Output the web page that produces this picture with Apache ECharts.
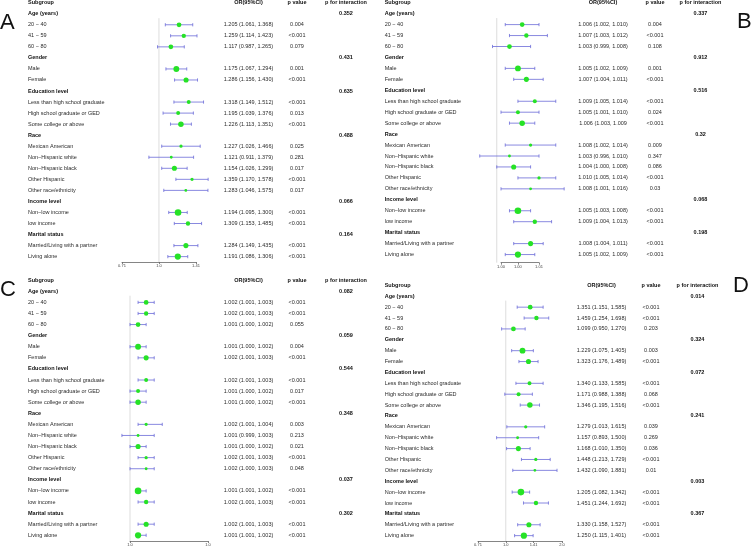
<!DOCTYPE html>
<html>
<head>
<meta charset="utf-8">
<title>Subgroup forest plots</title>
<script src="https://cdn.jsdelivr.net/npm/echarts@6.0.0/dist/echarts.min.js"></script>
<style>
  html, body { margin: 0; padding: 0; background: #fff; }
  #chart { width: 753px; height: 547px; }
</style>
</head>
<body>
<div id="chart"></div>
<script>
// ============================================
// 数据
// ============================================

const headers = ['Subgroup', 'OR(95%CI)', 'p value', 'p for interaction'];
const groups = ['Age (years)', 'Gender', 'Education level', 'Race', 'Income level', 'Marital status'];
const levels = [
    ['20 − 40', '41 − 59', '60 − 80'],
    ['Male', 'Female'],
    ['Less than high school graduate', 'High school graduate or GED', 'Some college or above'],
    ['Mexican American', 'Non−Hispanic white', 'Non−Hispanic black', 'Other Hispanic', 'Other race/ethnicity'],
    ['Non−low income', 'low income'],
    ['Married/Living with a partner', 'Living alone']
];
// relative subgroup weight (box size), same population in every panel
const sampleWeight = [0.5, 0.42, 0.5, 0.75, 0.58, 0.33, 0.33, 0.67, 0.17, 0.08, 0.58, 0.17, 0.08, 0.92, 0.42, 0.58, 0.83];

// panel A
const estA = [1.205, 1.259, 1.117, 1.175, 1.286, 1.318, 1.195, 1.226, 1.227, 1.121, 1.154, 1.359, 1.283, 1.194, 1.309, 1.284, 1.191];
const lowA = [1.061, 1.114, 0.987, 1.067, 1.156, 1.149, 1.039, 1.113, 1.026, 0.911, 1.026, 1.170, 1.046, 1.095, 1.153, 1.149, 1.086];
const highA = [1.368, 1.423, 1.265, 1.294, 1.430, 1.512, 1.376, 1.351, 1.466, 1.379, 1.299, 1.578, 1.575, 1.300, 1.485, 1.435, 1.306];
const pA = ['0.004', '<0.001', '0.079', '0.001', '<0.001', '<0.001', '0.013', '<0.001', '0.025', '0.281', '0.017', '<0.001', '0.017', '<0.001', '<0.001', '<0.001', '<0.001'];
const pIntA = ['0.352', '0.431', '0.635', '0.488', '0.066', '0.164'];
const ticksA = [0.71, 1, 1.41];
const tickLabelsA = ['0.71', '1.0', '1.41'];

// panel B
const estB = [1.006, 1.007, 1.003, 1.005, 1.007, 1.009, 1.005, 1.006, 1.008, 1.003, 1.004, 1.010, 1.008, 1.005, 1.009, 1.008, 1.005];
const lowB = [1.002, 1.003, 0.999, 1.002, 1.004, 1.005, 1.001, 1.003, 1.002, 0.996, 1.000, 1.005, 1.001, 1.003, 1.004, 1.004, 1.002];
const highB = [1.010, 1.012, 1.008, 1.009, 1.011, 1.014, 1.010, 1.009, 1.014, 1.010, 1.008, 1.014, 1.016, 1.008, 1.013, 1.011, 1.009];
const pB = ['0.004', '<0.001', '0.108', '0.001', '<0.001', '<0.001', '0.024', '<0.001', '0.009', '0.347', '0.086', '<0.001', '0.03', '<0.001', '<0.001', '<0.001', '<0.001'];
const pIntB = ['0.337', '0.912', '0.516', '0.32', '0.068', '0.198'];
const ticksB = [1.001, 1.005, 1.010];
const tickLabelsB = ['1.00', '1.00', '1.01'];

// panel C
const estC = [1.002, 1.002, 1.001, 1.001, 1.002, 1.002, 1.001, 1.001, 1.002, 1.001, 1.001, 1.002, 1.002, 1.001, 1.002, 1.002, 1.001];
const lowC = [1.001, 1.001, 1.000, 1.000, 1.001, 1.001, 1.000, 1.000, 1.001, 0.999, 1.000, 1.001, 1.000, 1.001, 1.001, 1.001, 1.001];
const highC = [1.003, 1.003, 1.002, 1.002, 1.003, 1.003, 1.002, 1.002, 1.004, 1.003, 1.002, 1.003, 1.003, 1.002, 1.003, 1.003, 1.002];
const pC = ['<0.001', '<0.001', '0.055', '0.004', '<0.001', '<0.001', '0.017', '<0.001', '0.003', '0.213', '0.021', '<0.001', '0.048', '<0.001', '<0.001', '<0.001', '<0.001'];
const pIntC = ['0.082', '0.059', '0.544', '0.348', '0.037', '0.302'];
const ticksC = [1.0, 1.0097];
const tickLabelsC = ['1.0', '1.0'];

// panel D
const estD = [1.351, 1.459, 1.099, 1.229, 1.323, 1.340, 1.171, 1.346, 1.279, 1.157, 1.168, 1.448, 1.432, 1.205, 1.451, 1.330, 1.250];
const lowD = [1.151, 1.254, 0.950, 1.075, 1.176, 1.133, 0.988, 1.195, 1.013, 0.893, 1.010, 1.213, 1.090, 1.082, 1.244, 1.158, 1.115];
const highD = [1.585, 1.698, 1.270, 1.405, 1.489, 1.585, 1.388, 1.516, 1.615, 1.500, 1.350, 1.729, 1.881, 1.342, 1.692, 1.527, 1.401];
const pD = ['<0.001', '<0.001', '0.203', '0.003', '<0.001', '<0.001', '0.068', '<0.001', '0.039', '0.269', '0.036', '<0.001', '0.01', '<0.001', '<0.001', '<0.001', '<0.001'];
const pIntD = ['0.014', '0.324', '0.072', '0.241', '0.003', '0.367'];
const ticksD = [0.71, 1, 1.41, 2];
const tickLabelsD = ['0.71', '1.0', '1.41', '2.0'];

// ============================================
// 版面 (pixel layout of each panel)
// ============================================

const FONT = '"Liberation Sans", Arial, sans-serif';
const CI_COLOR = '#6b6bd8';
const POINT_COLOR = '#26e226';
const REF_COLOR = '#d4d4d4';

const panels = [
    { letter: 'A', est: estA, low: lowA, high: highA, p: pA, pInt: pIntA, ticks: ticksA, tickLabels: tickLabelsA,
      y0: 2.7, step: 11.04, axisY: 262, sub: 28, or: 248.5, pv: 297, pi: 346, plotL: 122, plotR: 196, lx: 0, ly: 22.5 },
    { letter: 'B', est: estB, low: lowB, high: highB, p: pB, pInt: pIntB, ticks: ticksB, tickLabels: tickLabelsB,
      y0: 2.7, step: 10.95, axisY: 262.7, sub: 384.7, or: 603, pv: 655, pi: 700.5, plotL: 501, plotR: 539, lx: 737, ly: 21.5 },
    { letter: 'C', est: estC, low: lowC, high: highC, p: pC, pInt: pIntC, ticks: ticksC, tickLabels: tickLabelsC,
      y0: 280.2, step: 11.09, axisY: 541, sub: 28, or: 248.5, pv: 297, pi: 346, plotL: 130, plotR: 208, lx: 0, ly: 289.5 },
    { letter: 'D', est: estD, low: lowD, high: highD, p: pD, pInt: pIntD, ticks: ticksD, tickLabels: tickLabelsD,
      y0: 285.4, step: 10.88, axisY: 541, sub: 384.7, or: 601.5, pv: 651, pi: 697.5, plotL: 478, plotR: 562, lx: 733, ly: 286 }
];

// the original table has a typo in one cell of panel B
const cellFix = { B: { 7: '1.006 (1.003, 1.009' } };

// ============================================
// 构建表格行
// ============================================

function fmtCI(P, k) {
    const fix = cellFix[P.letter];
    if (fix && fix[k]) return fix[k];
    return `${P.est[k].toFixed(3)} (${P.low[k].toFixed(3)}, ${P.high[k].toFixed(3)})`;
}

function buildRows(P) {
    const rows = [{ row: 0, cells: [
        { col: 'sub', text: headers[0], align: 'left', bold: true },
        { col: 'or', text: headers[1], align: 'center', bold: true },
        { col: 'pv', text: headers[2], align: 'center', bold: true },
        { col: 'pi', text: headers[3], align: 'center', bold: true }
    ] }];
    const marks = [];
    let row = 1, k = 0;
    groups.forEach((g, gi) => {
        rows.push({ row: row++, cells: [
            { col: 'sub', text: g, align: 'left', bold: true },
            { col: 'pi', text: P.pInt[gi], align: 'center', bold: true }
        ] });
        levels[gi].forEach(lv => {
            rows.push({ row: row, cells: [
                { col: 'sub', text: lv, align: 'left', bold: false },
                { col: 'or', text: fmtCI(P, k), align: 'center', bold: false },
                { col: 'pv', text: P.p[k], align: 'center', bold: false }
            ] });
            marks.push([Math.log2(P.est[k]), row, Math.log2(P.low[k]), Math.log2(P.high[k]), sampleWeight[k]]);
            row++; k++;
        });
    });
    return { rows, marks };
}

// ============================================
// 配置
// ============================================

const grids = [], xAxes = [], yAxes = [], series = [], graphics = [];

panels.forEach((P, i) => {
    const { rows, marks } = buildRows(P);
    const yMax = (P.axisY - P.y0) / P.step;
    const tickVals = P.ticks.map(t => Math.log2(t));
    const ti = i * 2, pl = i * 2 + 1;

    // table grid (x in page pixels, y in rows)
    grids.push({ left: 0, width: 753, top: P.y0, height: P.axisY - P.y0, outerBoundsMode: 'none', containLabel: false });
    // forest grid (x in log2 OR)
    grids.push({ left: P.plotL, width: P.plotR - P.plotL, top: P.y0, height: P.axisY - P.y0, outerBoundsMode: 'none', containLabel: false });

    xAxes.push({ type: 'value', gridIndex: ti, min: 0, max: 753, show: false });
    xAxes.push({
        type: 'value', gridIndex: pl, position: 'bottom',
        min: tickVals[0], max: tickVals[tickVals.length - 1],
        splitLine: { show: false },
        axisLine: { show: true, onZero: false, lineStyle: { color: '#666', width: 0.8 } },
        axisTick: { show: true, length: 2, customValues: tickVals, lineStyle: { color: '#666', width: 0.8 } },
        axisLabel: {
            customValues: tickVals, fontSize: 4, margin: 2, color: '#444', fontFamily: FONT,
            formatter: v => {
                const j = tickVals.findIndex(t => Math.abs(t - v) < 1e-9);
                return j >= 0 ? P.tickLabels[j] : '';
            }
        }
    });
    yAxes.push({ type: 'value', gridIndex: ti, min: 0, max: yMax, inverse: true, show: false });
    yAxes.push({ type: 'value', gridIndex: pl, min: 0, max: yMax, inverse: true, show: false });

    // table text
    series.push({
        type: 'custom', xAxisIndex: ti, yAxisIndex: ti, silent: true,
        data: rows.map(r => [0, r.row]),
        renderItem(params, api) {
            const r = rows[params.dataIndex];
            const y = api.coord([0, api.value(1)])[1];
            return {
                type: 'group',
                children: r.cells.map(c => ({
                    type: 'text',
                    style: {
                        text: c.text, x: api.coord([P[c.col], 0])[0], y: y,
                        align: c.align, verticalAlign: 'middle',
                        textAlign: c.align, textVerticalAlign: 'middle',
                        fontSize: 5.5, fontWeight: c.bold ? 'bold' : 'normal',
                        fontFamily: FONT, fill: c.bold ? '#111' : '#2b2b2b'
                    }
                }))
            };
        }
    });

    // reference line at OR = 1
    series.push({
        type: 'custom', xAxisIndex: pl, yAxisIndex: pl, silent: true, clip: false,
        data: [[0, 1.4]],
        renderItem(params, api) {
            const a = api.coord([api.value(0), api.value(1)]);
            const b = api.coord([api.value(0), yMax]);
            return { type: 'line', shape: { x1: a[0], y1: a[1], x2: b[0], y2: b[1] }, style: { stroke: REF_COLOR, lineWidth: 0.8 } };
        }
    });

    // confidence intervals and point estimates
    series.push({
        type: 'custom', xAxisIndex: pl, yAxisIndex: pl, silent: true, clip: false,
        data: marks,
        renderItem(params, api) {
            const row = api.value(1);
            const c = api.coord([api.value(0), row]);
            const xl = api.coord([api.value(2), row])[0];
            const xh = api.coord([api.value(3), row])[0];
            const y = c[1];
            const r = (2.5 + 4.5 * api.value(4)) / 2;
            const ls = { stroke: CI_COLOR, lineWidth: 0.8 };
            return {
                type: 'group',
                children: [
                    { type: 'line', shape: { x1: xl, y1: y, x2: xh, y2: y }, style: ls },
                    { type: 'line', shape: { x1: xl, y1: y - 1.6, x2: xl, y2: y + 1.6 }, style: ls },
                    { type: 'line', shape: { x1: xh, y1: y - 1.6, x2: xh, y2: y + 1.6 }, style: ls },
                    { type: 'circle', shape: { cx: c[0], cy: y, r: r }, style: { fill: POINT_COLOR } }
                ]
            };
        }
    });

    // panel letter
    graphics.push({
        type: 'text', x: P.lx, y: P.ly, silent: true,
        style: { text: P.letter, fontSize: 22, fontFamily: FONT, fill: '#111',
                 verticalAlign: 'middle', textVerticalAlign: 'middle' }
    });
});

const chart = echarts.init(document.getElementById('chart'), null, { renderer: 'canvas' });
chart.setOption({
    animation: false,
    backgroundColor: '#fff',
    grid: grids,
    xAxis: xAxes,
    yAxis: yAxes,
    series: series,
    graphic: graphics
});
</script>
</body>
</html>
